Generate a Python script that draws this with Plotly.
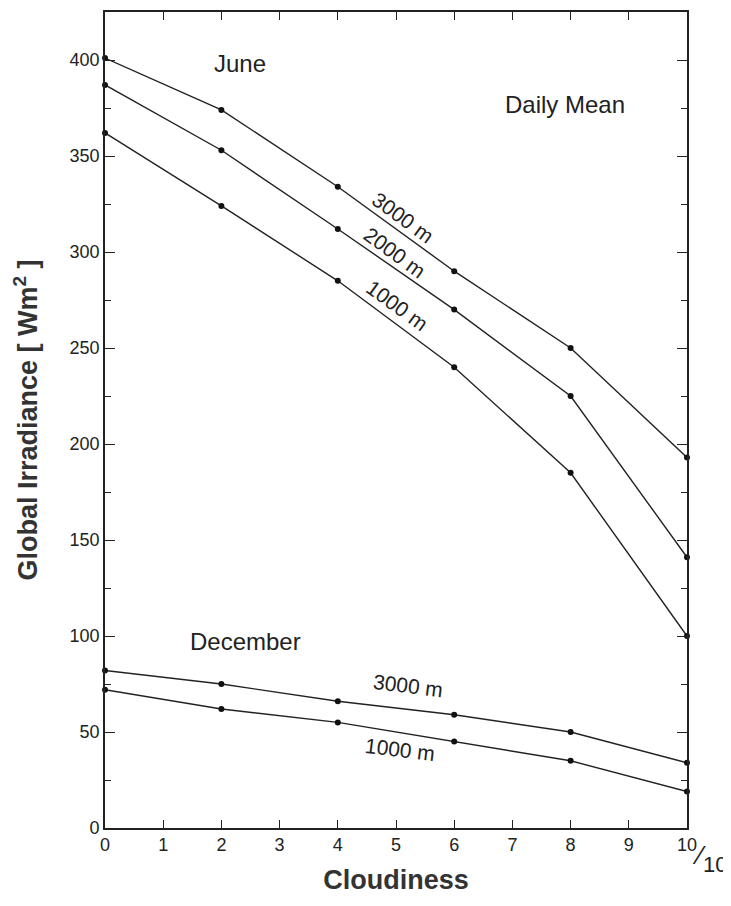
import plotly.graph_objects as go

cloudiness = [0, 2, 4, 6, 8, 10]
june_3000 = [401, 374, 334, 290, 250, 193]
june_2000 = [387, 353, 312, 270, 225, 141]
june_1000 = [362, 324, 285, 240, 185, 100]
dec_3000 = [82, 75, 66, 59, 50, 34]
dec_1000 = [72, 62, 55, 45, 35, 19]

x_ticks = list(range(0, 11))
x_ticktext = [str(v) for v in x_ticks]
y_ticks = [0, 50, 100, 150, 200, 250, 300, 350, 400]

series = [
    ("June 3000 m", june_3000),
    ("June 2000 m", june_2000),
    ("June 1000 m", june_1000),
    ("December 3000 m", dec_3000),
    ("December 1000 m", dec_1000),
]

FONT = "Liberation Sans, Arial, Helvetica, sans-serif"
INK = "#222222"

fig = go.Figure()
for name, vals in series:
    fig.add_trace(go.Scatter(
        x=cloudiness, y=vals, mode="lines+markers", name=name,
        line=dict(color=INK, width=1.4),
        marker=dict(color="#111111", size=6),
        cliponaxis=False,
        showlegend=False,
    ))

labels = [
    ("June", 2.32, 398, 0, 24),
    ("Daily Mean", 7.9, 377, 0, 24),
    ("December", 2.41, 97, 0, 24),
    ("3000 m", 5.12, 318, 36, 21),
    ("2000 m", 4.98, 300, 36, 21),
    ("1000 m", 5.02, 272, 36, 21),
    ("3000 m", 5.2, 74, 7, 21),
    ("1000 m", 5.07, 41, 7, 21),
]
for text, x, y, ang, size in labels:
    fig.add_annotation(x=x, y=y, xref="x", yref="y", text=text, showarrow=False,
                       textangle=ang, font=dict(family=FONT, size=size, color=INK))

# "/10" fraction mark after last x tick label
fig.add_annotation(x=10, y=0, xref="x", yref="y", text="⁄", showarrow=False,
                   xanchor="left", yanchor="top", xshift=3, yshift=-10,
                   font=dict(family=FONT, size=26, color=INK))
fig.add_annotation(x=10, y=0, xref="x", yref="y", text="10", showarrow=False,
                   xanchor="left", yanchor="top", xshift=14, yshift=-22,
                   font=dict(family=FONT, size=22, color=INK))

fig.update_xaxes(
    range=[0, 10], tickvals=x_ticks, ticktext=x_ticktext,
    ticks="inside", ticklen=8, tickwidth=1.2, tickcolor=INK,
    showline=True, linecolor=INK, linewidth=1.6, mirror="ticks",
    showgrid=False, zeroline=False,
    tickfont=dict(family=FONT, size=18, color=INK),
    title=dict(text="<b>Cloudiness</b>", font=dict(family=FONT, size=27, color="#333333"), standoff=16),
)
fig.update_yaxes(
    range=[0, 425], tickvals=y_ticks,
    ticks="inside", ticklen=10, tickwidth=1.2, tickcolor=INK,
    minor=dict(dtick=25, tick0=0, ticks="inside", ticklen=6, tickcolor=INK, tickwidth=1.2),
    showline=True, linecolor=INK, linewidth=1.6, mirror="ticks",
    showgrid=False, zeroline=False,
    tickfont=dict(family=FONT, size=18, color=INK),
    title=dict(text="<b>Global Irradiance [ Wm<sup>2</sup> ]</b>", font=dict(family=FONT, size=27, color="#333333"), standoff=24),
)

# page body has an 8px margin, so the figure is sized to fit inside the window
fig.update_layout(
    width=723, height=898,
    margin=dict(l=97, r=44, t=2, b=78),
    paper_bgcolor="white", plot_bgcolor="white",
)

fig.write_html("out.html")
